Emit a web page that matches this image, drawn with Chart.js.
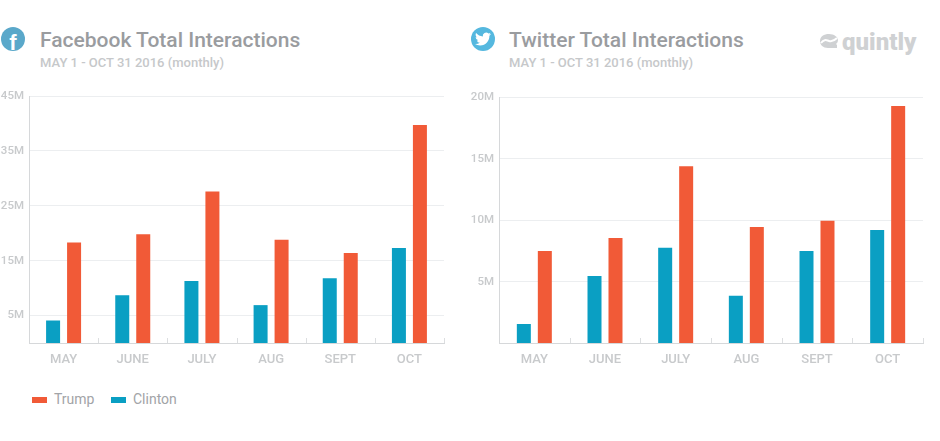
<!DOCTYPE html>
<html>
<head>
<meta charset="utf-8">
<script src="https://cdn.jsdelivr.net/npm/chart.js@4/dist/chart.umd.min.js"></script>
<style>
  html, body { margin: 0; padding: 0; background: #fff; }
  body { width: 940px; height: 441px; position: relative; overflow: hidden; font-family: Roboto, sans-serif; }
  .abs { position: absolute; white-space: nowrap; }
  .title { font-size: 21px; font-weight: 500; color: #9a9c9f; line-height: 24px; }
  .sub { font-size: 13px; font-weight: 500; color: #c6c8ca; line-height: 16px; }
  .icon { width: 24px; height: 24px; border-radius: 50%; text-align: center; color: #fff; overflow: hidden; }
  .legend { font-size: 14px; color: #a2a4a7; line-height: 18px; }
  .swatch { width: 15px; height: 6px; }
  canvas { position: absolute; top: 80px; }
</style>
</head>
<body>

<div class="abs icon" style="left:1px;top:27px;background:#5aa8ca;font:700 22px/31px 'Liberation Sans',sans-serif;">f</div>
<div class="abs title" style="left:40px;top:28px;">Facebook Total Interactions</div>
<div class="abs sub" style="left:40px;top:55px;">MAY 1 - OCT 31 2016 (monthly)</div>

<div class="abs icon" style="left:471px;top:27px;background:#55b8df;">
  <svg width="16" height="16" viewBox="0 0 24 24" style="margin-top:4px" fill="#fff"><path d="M23.953 4.57a10 10 0 01-2.825.775 4.958 4.958 0 002.163-2.723c-.951.555-2.005.959-3.127 1.184a4.92 4.92 0 00-8.384 4.482C7.69 8.095 4.067 6.13 1.64 3.162a4.822 4.822 0 00-.666 2.475c0 1.71.87 3.213 2.188 4.096a4.904 4.904 0 01-2.228-.616v.06a4.923 4.923 0 003.946 4.827 4.996 4.996 0 01-2.212.085 4.936 4.936 0 004.604 3.417 9.867 9.867 0 01-6.102 2.105c-.39 0-.779-.023-1.17-.067a13.995 13.995 0 007.557 2.209c9.053 0 13.998-7.496 13.998-13.985 0-.21 0-.42-.015-.63A9.935 9.935 0 0024 4.59z"/></svg>
</div>
<div class="abs title" style="left:509px;top:28px;">Twitter Total Interactions</div>
<div class="abs sub" style="left:509px;top:55px;">MAY 1 - OCT 31 2016 (monthly)</div>

<svg class="abs" style="left:820px;top:34px;" width="18" height="16" viewBox="0 0 18 16">
  <path d="M9 0C4 0 0 2.5 0 7c0 4 3 7 8 7h9v-3l-1-1c1-1 2-2 2-4C18 3 14 0 9 0z" fill="#cfd1d3"/>
  <path d="M1 9c3-4 5-3 8-2s5 0 8-3" stroke="#fff" stroke-width="2" fill="none"/>
</svg>
<div class="abs" style="left:842px;top:28px;font-size:24px;font-weight:900;color:#cfd1d3;line-height:28px;">quintly</div>

<canvas id="fbChart" style="left:0;width:460px;height:300px;" width="460" height="300"></canvas>
<canvas id="twChart" style="left:460px;width:480px;height:300px;" width="480" height="300"></canvas>

<div class="abs swatch" style="left:32px;top:397px;background:#f15a37;"></div>
<div class="abs legend" style="left:54px;top:390px;">Trump</div>
<div class="abs swatch" style="left:111px;top:397px;background:#0a9fc3;"></div>
<div class="abs legend" style="left:133px;top:390px;">Clinton</div>

<script>
const months = ['MAY', 'JUNE', 'JULY', 'AUG', 'SEPT', 'OCT'];

// values in millions
const fbClinton = [4.1, 8.7, 11.3, 6.9, 11.8, 17.3];
const fbTrump = [18.3, 19.8, 27.6, 18.8, 16.4, 39.7];
const fbTicks = [5, 15, 25, 35, 45];

const twClinton = [1.55, 5.45, 7.75, 3.85, 7.5, 9.2];
const twTrump = [7.5, 8.55, 14.4, 9.45, 9.95, 19.3];
const twTicks = [5, 10, 15, 20];

// small marks between the months, going up from the axis
const monthMarks = {
  id: 'monthMarks',
  afterDatasetsDraw(chart) {
    const x = chart.scales.x;
    const bottom = chart.chartArea.bottom;
    const ctx = chart.ctx;
    ctx.save();
    ctx.strokeStyle = '#dcdee0';
    ctx.lineWidth = 1;
    for (let i = 1; i <= months.length; i++) {
      const px = Math.round(x.getPixelForValue(i - 0.5)) + 0.5;
      ctx.beginPath();
      ctx.moveTo(px, bottom);
      ctx.lineTo(px, bottom - 5);
      ctx.stroke();
    }
    ctx.restore();
  }
};

function drawChart(domId, clinton, trump, ticks, opts) {
  const ctx = document.getElementById(domId).getContext('2d');
  return new Chart(ctx, {
    type: 'bar',
    data: {
      labels: months,
      datasets: [
        { label: 'Clinton', data: clinton, backgroundColor: '#0a9fc3', categoryPercentage: opts.catPct, barPercentage: 0.667 },
        { label: 'Trump', data: trump, backgroundColor: '#f15a37', categoryPercentage: opts.catPct, barPercentage: 0.667 }
      ]
    },
    plugins: [monthMarks],
    options: {
      responsive: false,
      animation: false,
      layout: { padding: { top: opts.top, right: opts.right, left: 0, bottom: 0 } },
      plugins: { legend: { display: false }, tooltip: { enabled: false } },
      scales: {
        x: {
          grid: { display: false },
          border: { color: '#d6d8da', width: 1 },
          ticks: { color: '#c8cacc', font: { family: 'Roboto', size: 13, weight: '500' }, padding: 1, maxRotation: 0 },
          afterFit(scale) { scale.height = 37; }
        },
        y: {
          min: 0,
          max: opts.max,
          afterBuildTicks(scale) { scale.ticks = ticks.map(v => ({ value: v })); },
          grid: { color: '#eceef0', drawTicks: false },
          border: { color: '#d6d8da', width: 1 },
          ticks: {
            color: '#c8cacc',
            font: { family: 'Roboto', size: 11.5, weight: '500' },
            padding: 5,
            callback: v => v + 'M'
          },
          afterFit(scale) { scale.width = opts.axisWidth; }
        }
      }
    }
  });
}

drawChart('fbChart', fbClinton, fbTrump, fbTicks, { max: 45, top: 16, right: 16, axisWidth: 29, catPct: 0.607 });
drawChart('twChart', twClinton, twTrump, twTicks, { max: 20, top: 17.5, right: 17, axisWidth: 39, catPct: 0.594 });
</script>
</body>
</html>
